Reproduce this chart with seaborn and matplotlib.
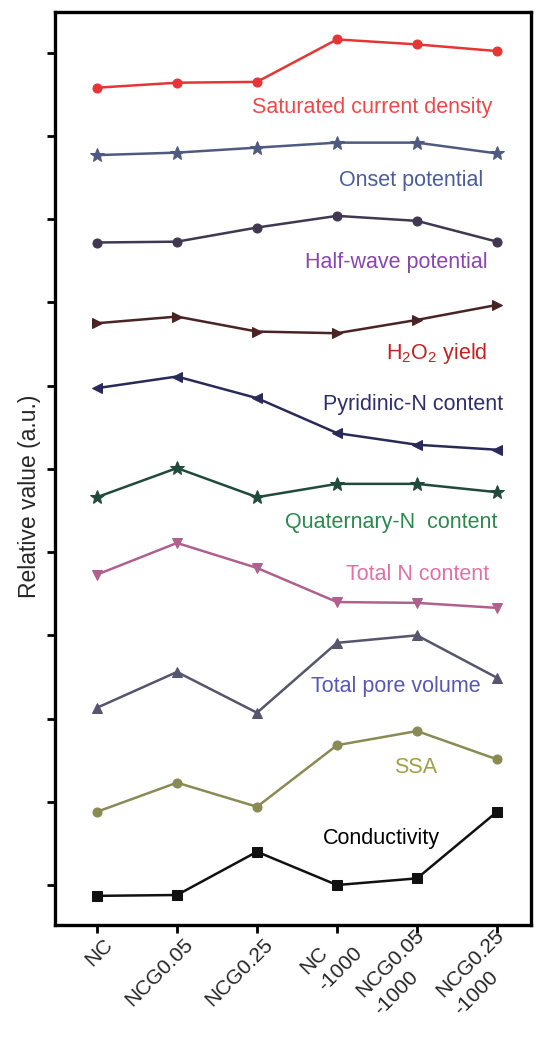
import numpy as np
import seaborn as sns
import matplotlib.pyplot as plt
import matplotlib.transforms as mtransforms

sns.set_style('white')
plt.rcParams['font.family'] = ['Liberation Sans', 'DejaVu Sans']
plt.rcParams['mathtext.default'] = 'regular'

# samples along x
samples = ['NC', 'NCG0.05', 'NCG0.25', 'NC\n-1000', 'NCG0.05\n-1000', 'NCG0.25\n-1000']

# relative values (offset stacked)
saturated = [9.58, 9.64, 9.65, 10.16, 10.10, 10.02]
onset = [8.77, 8.80, 8.86, 8.92, 8.92, 8.79]
half_wave = [7.72, 7.73, 7.90, 8.04, 7.98, 7.73]
h2o2 = [6.75, 6.83, 6.65, 6.63, 6.79, 6.97]
pyridinic = [5.97, 6.11, 5.85, 5.43, 5.29, 5.23]
quaternary = [4.66, 5.01, 4.66, 4.82, 4.82, 4.72]
total_n = [3.73, 4.11, 3.81, 3.40, 3.39, 3.33]
pore_volume = [2.13, 2.56, 2.07, 2.91, 3.00, 2.49]
ssa = [0.88, 1.23, 0.94, 1.68, 1.85, 1.51]
conductivity = [-0.13, -0.12, 0.40, 0.00, 0.08, 0.88]

names = ['Saturated current density', 'Onset potential', 'Half-wave potential',
         'H$_2$O$_2$ yield', 'Pyridinic-N content', 'Quaternary-N  content',
         'Total N content', 'Total pore volume', 'SSA', 'Conductivity']
series = [saturated, onset, half_wave, h2o2, pyridinic, quaternary,
          total_n, pore_volume, ssa, conductivity]

markers = ['o', '*', 'o', '>', '<', '*', 'v', '^', 'o', 's']
line_colors = ['#e53535', '#4f5a80', '#3f3850', '#4a2424', '#2a2a58',
               '#1f4a3c', '#b0608e', '#55556e', '#8a8a55', '#111111']
text_colors = ['#f04848', '#4a5c9c', '#8a45b0', '#c42222', '#2e2e6e',
               '#2a8a4e', '#e070a8', '#5858b4', '#a0a048', '#000000']
# label anchor (centre) in data units
label_x = [3.44, 3.93, 3.74, 4.24, 3.95, 3.68, 4.01, 3.73, 3.98, 3.56]
label_y = [9.34, 8.47, 7.48, 6.39, 5.77, 4.36, 3.73, 2.38, 1.41, 0.56]

x = np.arange(len(samples))

fig = plt.figure(figsize=(5.36, 10.4), dpi=100)
ax = fig.add_axes([0.1026, 0.1106, 0.8881, 0.8779])

for name, vals, m, lc, tc, lx, ly in zip(names, series, markers, line_colors,
                                         text_colors, label_x, label_y):
    ms = 10 if m == '*' else 6.5
    sns.lineplot(x=x, y=vals, ax=ax, color=lc, marker=m, markersize=ms,
                 markeredgecolor=lc, linewidth=1.8, legend=False)
    ax.text(lx, ly, name, color=tc, fontsize=15.5, ha='center', va='center')

ax.set_xlim(-0.525, 5.425)
ax.set_ylim(-0.48, 10.49)
ax.set_yticks(np.arange(0, 11))
ax.set_yticklabels([])
ax.set_xticks(x)
ax.set_xticklabels(samples, rotation=45, ha='right', va='center',
                   rotation_mode='anchor', multialignment='left',
                   fontsize=15, linespacing=1.4)
ax.tick_params(axis='both', direction='out', length=6, width=2, color='black',
               left=True, bottom=True)
ax.tick_params(axis='x', pad=6)
shift = mtransforms.ScaledTranslation(0.13, 0, fig.dpi_scale_trans)
for lab in ax.get_xticklabels():
    lab.set_transform(lab.get_transform() + shift)
for sp in ax.spines.values():
    sp.set_linewidth(2.4)
    sp.set_color('black')

ax.set_ylabel('Relative value (a.u.)', fontsize=16.5)
ax.yaxis.set_label_coords(-0.03, 0.47)

fig.savefig('out.png', dpi=100)
